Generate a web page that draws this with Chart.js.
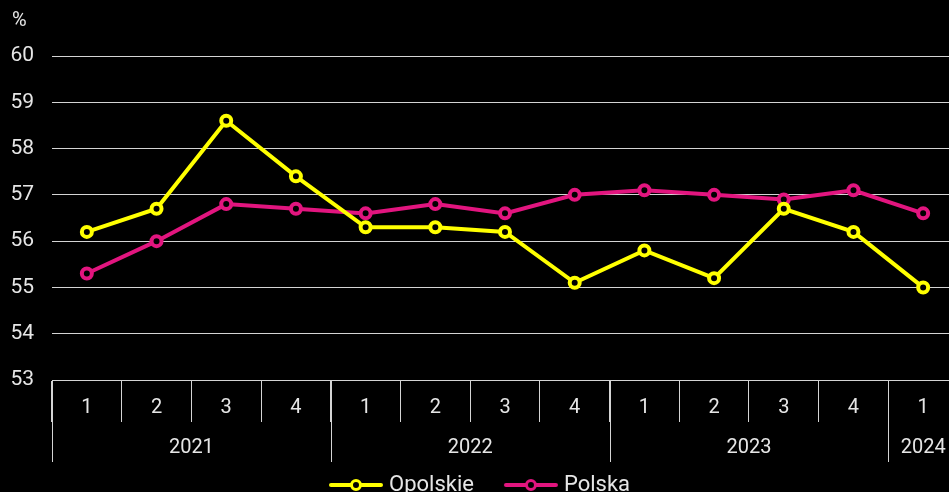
<!DOCTYPE html>
<html>
<head>
<meta charset="utf-8">
<script src="https://cdn.jsdelivr.net/npm/chart.js@4/dist/chart.umd.min.js"></script>
<style>
  html, body { margin: 0; padding: 0; background: #000; overflow: hidden; }
  #wrap { width: 967px; height: 506px; }
</style>
</head>
<body>
<div id="wrap"><canvas id="chart" width="967" height="506"></canvas></div>
<script>
// === DANE ===
const quarters = ['1','2','3','4','1','2','3','4','1','2','3','4','1'];
const yearOfQuarter = ['2021','2021','2021','2021','2022','2022','2022','2022','2023','2023','2023','2023','2024'];
const opolskie = [56.2, 56.7, 58.6, 57.4, 56.3, 56.3, 56.2, 55.1, 55.8, 55.2, 56.7, 56.2, 55.0];
const polska   = [55.3, 56.0, 56.8, 56.7, 56.6, 56.8, 56.6, 57.0, 57.1, 57.0, 56.9, 57.1, 56.6];

const YELLOW = '#ffff00';
const PINK = '#e2157f';
const GRID = '#d4d4d4';
const TEXT = '#e6e6e6';
const FONT = "Roboto, 'Noto Sans', sans-serif";

// ikonka legendy: linia z kółkiem
function legendIcon(color){
    const c = document.createElement('canvas');
    c.width = 56; c.height = 14;
    const g = c.getContext('2d');
    g.strokeStyle = color; g.lineWidth = 4; g.lineCap = 'round';
    g.beginPath(); g.moveTo(3, 7); g.lineTo(53, 7); g.stroke();
    g.fillStyle = '#000'; g.lineWidth = 3;
    g.beginPath(); g.arc(28, 7, 4.5, 0, Math.PI * 2); g.fill(); g.stroke();
    return c;
}

// === OŚ LAT + % ===
const yearAxis = {
    id: 'yearAxis',
    afterDraw(chart){
        const ctx = chart.ctx;
        const x = chart.scales.x;
        const bottom = chart.chartArea.bottom;
        const half = (x.getPixelForValue(1) - x.getPixelForValue(0)) / 2;
        ctx.save();
        ctx.strokeStyle = GRID; ctx.lineWidth = 1;
        ctx.fillStyle = TEXT;
        ctx.font = '20px ' + FONT;
        ctx.textAlign = 'center'; ctx.textBaseline = 'middle';
        let start = 0;
        for(let i = 1; i <= yearOfQuarter.length; i++){
            if(i === yearOfQuarter.length || yearOfQuarter[i] !== yearOfQuarter[start]){
                const left = x.getPixelForValue(start) - half;
                const right = x.getPixelForValue(i - 1) + half;
                [left, right].forEach(px => {
                    const p = Math.round(px) + 0.5;
                    ctx.beginPath(); ctx.moveTo(p, bottom); ctx.lineTo(p, bottom + 82); ctx.stroke();
                });
                ctx.fillText(yearOfQuarter[start], (left + right) / 2, bottom + 68);
                start = i;
            }
        }
        ctx.textAlign = 'left';
        ctx.fillText('%', 12, 21);
        ctx.restore();
    }
};

const ctx = document.getElementById('chart').getContext('2d');
new Chart(ctx, {
    type: 'line',
    data: {
        labels: quarters,
        datasets: [
            { label: 'Opolskie', data: opolskie, borderColor: YELLOW, backgroundColor: '#000',
              pointBorderColor: YELLOW, pointBackgroundColor: '#000', pointStyle: 'circle', borderWidth: 4, tension: 0 },
            { label: 'Polska', data: polska, borderColor: PINK, backgroundColor: '#000',
              pointBorderColor: PINK, pointBackgroundColor: '#000', pointStyle: 'circle', borderWidth: 4, tension: 0 }
        ]
    },
    options: {
        responsive: false,
        animation: false,
        layout: { padding: { top: 56, left: 0, right: 3, bottom: 0 } },
        elements: {
            point: { radius: 5, borderWidth: 3, hoverRadius: 5 }
        },
        scales: {
            x: {
                type: 'category',
                offset: true,
                grid: { offset: true, drawOnChartArea: false, drawTicks: true, tickLength: 42, color: GRID },
                border: { display: true, color: GRID },
                ticks: { color: TEXT, font: { size: 20, family: FONT }, padding: -26, maxRotation: 0, autoSkip: false },
                afterFit(scale){ scale.height = 59; }
            },
            y: {
                min: 53, max: 60,
                ticks: { stepSize: 1, color: TEXT, font: { size: 21, family: FONT }, padding: 18 },
                grid: { color: GRID, drawTicks: false },
                border: { display: false },
                afterFit(scale){ scale.width = 52; }
            }
        },
        plugins: {
            tooltip: { enabled: false },
            legend: {
                position: 'bottom',
                labels: {
                    color: TEXT,
                    font: { size: 22, family: FONT },
                    usePointStyle: true,
                    pointStyleWidth: 44,
                    padding: 35,
                    generateLabels(chart){
                        return chart.data.datasets.map((ds, i) => ({
                            text: ds.label,
                            pointStyle: legendIcon(ds.borderColor),
                            fontColor: TEXT,
                            strokeStyle: ds.borderColor,
                            fillStyle: '#000',
                            lineWidth: 0,
                            datasetIndex: i
                        }));
                    }
                }
            }
        }
    },
    plugins: [yearAxis]
});
</script>
</body>
</html>
